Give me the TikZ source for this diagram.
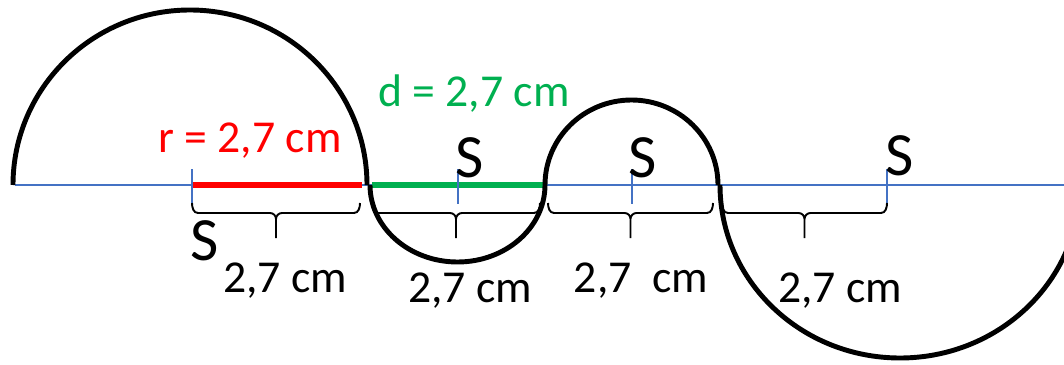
\documentclass[tikz,border=0pt]{standalone}
\usepackage{fontspec}
\setmainfont{Carlito}
\usepackage{tikz}
\usetikzlibrary{positioning}
\definecolor{axisblue}{HTML}{4472C4}
\definecolor{diamgreen}{HTML}{00B050}
% curly brace under a segment, from x=#1 to x=#2
\newcommand{\spanbrace}[2]{%
  \pgfmathsetmacro{\bmid}{(#1+#2)/2}%
  \draw[bracestroke] (#1,161) to[out=-90,in=180] (#1+6,151) -- (\bmid-6,151)
    to[out=0,in=90] (\bmid,145) -- (\bmid,126)
    (\bmid,145) to[out=90,in=180] (\bmid+6,151) -- (#2-6,151)
    to[out=0,in=-90] (#2,161);}

\begin{document}
\begin{tikzpicture}[
  x=0.2mm, y=0.2mm,
  axis/.style={axisblue, line width=0.9pt},
  tick/.style={axisblue, line width=0.9pt},
  halfarc/.style={black, line width=2.8pt},
  seg/.style={line width=3.6pt},
  bracestroke/.style={black, line width=1.1pt},
  lbl/.style={font=\fontsize{26}{30}\selectfont, inner sep=0pt, anchor=base},
  sname/.style={font=\fontsize{35}{40}\selectfont, inner sep=0pt, anchor=base},
]
\useasboundingbox (0,0) rectangle (1064,364);

% ===== axis and marked segments =====
\coordinate (start) at (15,179);
\coordinate (stop) at (1064,179);
\draw[axis] (start) -- (stop);

\coordinate (s1) at (192,179);
\coordinate (s2) at (458,179);
\coordinate (s3) at (632,179);
\coordinate (s4) at (887,179);
\coordinate (r0) at (362,179);
\coordinate (d0) at (372,179);
\coordinate (d1) at (545,179);

\draw[seg, red] (s1) -- (r0);
\draw[seg, diamgreen] (d0) -- (d1);

% centre ticks
\foreach \c in {s1,s2,s3,s4}
  \draw[tick] ([yshift=3.2mm]\c) -- ([yshift=-3.8mm]\c);

% ===== half circles =====
\draw[halfarc] (13,179) arc[start angle=180, end angle=0, x radius=177, y radius=175];
\draw[halfarc] (370,179) arc[start angle=180, end angle=360, x radius=87.5, y radius=77];
\draw[halfarc] (545,179) arc[start angle=180, end angle=0, x radius=86.5, y radius=85];
\draw[halfarc] (720,179) arc[start angle=180, end angle=360, x radius=180, y radius=173];

% ===== braces =====
\foreach \xa/\xb in {192/360, 372/540, 548/713, 722/887}
  \spanbrace{\xa}{\xb};

% ===== labels =====
\node[lbl, text=red] (radius) at (250,211) {r = 2,7 cm};
\node[lbl, text=diamgreen] (diameter) at (474,257) {d = 2,7 cm};

\node[lbl] (lenA) at (285,72) {2,7 cm};
\node[lbl] (lenB) at (470,62) {2,7 cm};
\node[lbl] (lenC) at (641,72) {2,7~~cm};
\node[lbl] (lenD) at (840,62) {2,7 cm};

\node[sname] (sA) at (205,104) {S};
\node[sname] (sB) at (470,187) {S};
\node[sname] (sC) at (643,187) {S};
\node[sname] (sD) at (900,189) {S};

\end{tikzpicture}
\end{document}
